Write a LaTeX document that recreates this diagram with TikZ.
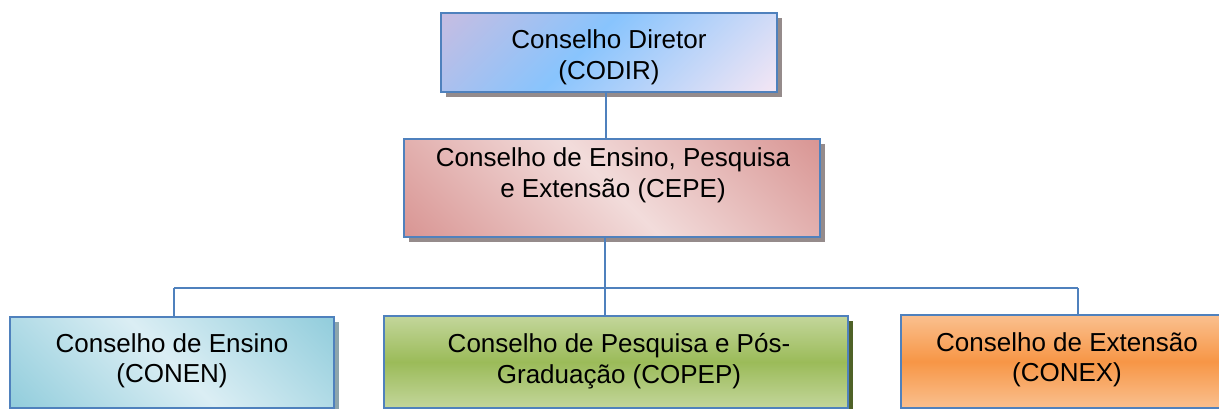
\documentclass[tikz,border=0pt]{standalone}
\usepackage{fontspec}
\setmainfont{Liberation Sans}
\usetikzlibrary{shadows}
\definecolor{lineblue}{HTML}{4F81BD}
\definecolor{codirA}{HTML}{C6BDE2}
\definecolor{codirB}{HTML}{88C4FD}
\definecolor{codirC}{HTML}{F4E6F4}
\definecolor{cepeDark}{HTML}{D99694}
\definecolor{cepeLight}{HTML}{F2DCDB}
\definecolor{conenDark}{HTML}{92CDDC}
\definecolor{conenLight}{HTML}{DBEEF4}
\definecolor{copepLight}{HTML}{C3D69B}
\definecolor{copepDark}{HTML}{9BBB59}
\definecolor{conexLight}{HTML}{FAC08F}
\definecolor{conexDark}{HTML}{F79646}
\definecolor{shadowgray}{HTML}{958B8B}
\definecolor{shadowgreen}{HTML}{4F6228}
\definecolor{shadowblue}{HTML}{8DA5AC}
\definecolor{shadoworange}{HTML}{984807}
\pgfdeclareverticalshading{codirshade}{100bp}{color(0bp)=(codirA); color(15bp)=(codirA); color(45bp)=(codirB); color(85bp)=(codirC); color(100bp)=(codirC)}
\pgfdeclareverticalshading{cepeshade}{100bp}{color(0bp)=(cepeDark); color(15bp)=(cepeDark); color(50bp)=(cepeLight); color(85bp)=(cepeDark); color(100bp)=(cepeDark)}
\pgfdeclareverticalshading{conenshade}{100bp}{color(0bp)=(conenDark); color(15bp)=(conenDark); color(50bp)=(conenLight); color(85bp)=(conenDark); color(100bp)=(conenDark)}
\pgfdeclareverticalshading{copepshade}{100bp}{color(0bp)=(copepLight); color(25bp)=(copepLight); color(50bp)=(copepDark); color(75bp)=(copepLight); color(100bp)=(copepLight)}
\pgfdeclareverticalshading{conexshade}{100bp}{color(0bp)=(conexLight); color(25bp)=(conexLight); color(50bp)=(conexDark); color(75bp)=(conexLight); color(100bp)=(conexLight)}
\tikzset{
  orgbox/.style={rectangle, draw=lineblue, line width=2.5pt, inner sep=0pt},
  boxshadow/.style={drop shadow={shadow xshift=5pt, shadow yshift=-5pt, fill=#1, opacity=1}},
  conn/.style={draw=lineblue, line width=2pt},
  boxtext/.style={align=center, inner sep=0pt, font=\fontsize{26}{30.5}\selectfont}
}
\begin{document}
\begin{tikzpicture}[x=1pt, y=-1pt]
\useasboundingbox (0,0) rectangle (1219,409);
% boxes
\node[orgbox, boxshadow=shadowgray, shade, shading=codirshade, shading angle=-135,
      minimum width=336pt, minimum height=79pt] (codir) at (609,52.5) {};
\node[orgbox, boxshadow=shadowgray, shade, shading=cepeshade, shading angle=-45,
      minimum width=416pt, minimum height=98pt] (cepe) at (612,188) {};
\node[orgbox, boxshadow=shadowblue, shade, shading=conenshade, shading angle=-45,
      minimum width=324pt, minimum height=91pt] (conen) at (172,362.5) {};
\node[orgbox, boxshadow=shadowgreen, shade, shading=copepshade,
      minimum width=464pt, minimum height=92pt] (copep) at (616,362) {};
\node[orgbox, boxshadow=shadoworange, shade, shading=conexshade,
      minimum width=332pt, minimum height=93pt] (conex) at (1067,361.5) {};
% texts
\node[boxtext] (tcodir) at (609,57.5) {Conselho Diretor\\(CODIR)};
\node[boxtext] (tcepe) at (613,175.5) {Conselho de Ensino, Pesquisa\\e Extensão (CEPE)};
\node[boxtext] (tconen) at (172,361) {Conselho de Ensino\\(CONEN)};
\node[boxtext] (tcopep) at (619,361) {Conselho de Pesquisa e Pós-\\Graduação (COPEP)};
\node[boxtext] (tconex) at (1067,360) {Conselho de Extensão\\(CONEX)};
% connectors
\coordinate (v1) at (606,0);
\coordinate (bus) at (605,288);
\coordinate (busL) at (174,288);
\coordinate (busR) at (1078,288);
\draw[conn] (codir.south -| v1) -- (cepe.north -| v1);
\draw[conn] (cepe.south -| bus) -- (bus);
\draw[conn] (busL) -- (busR);
\draw[conn] (busL) -- (busL |- conen.north);
\draw[conn] (bus) -- (bus |- copep.north);
\draw[conn] (busR) -- (busR |- conex.north);
\end{tikzpicture}
\end{document}
